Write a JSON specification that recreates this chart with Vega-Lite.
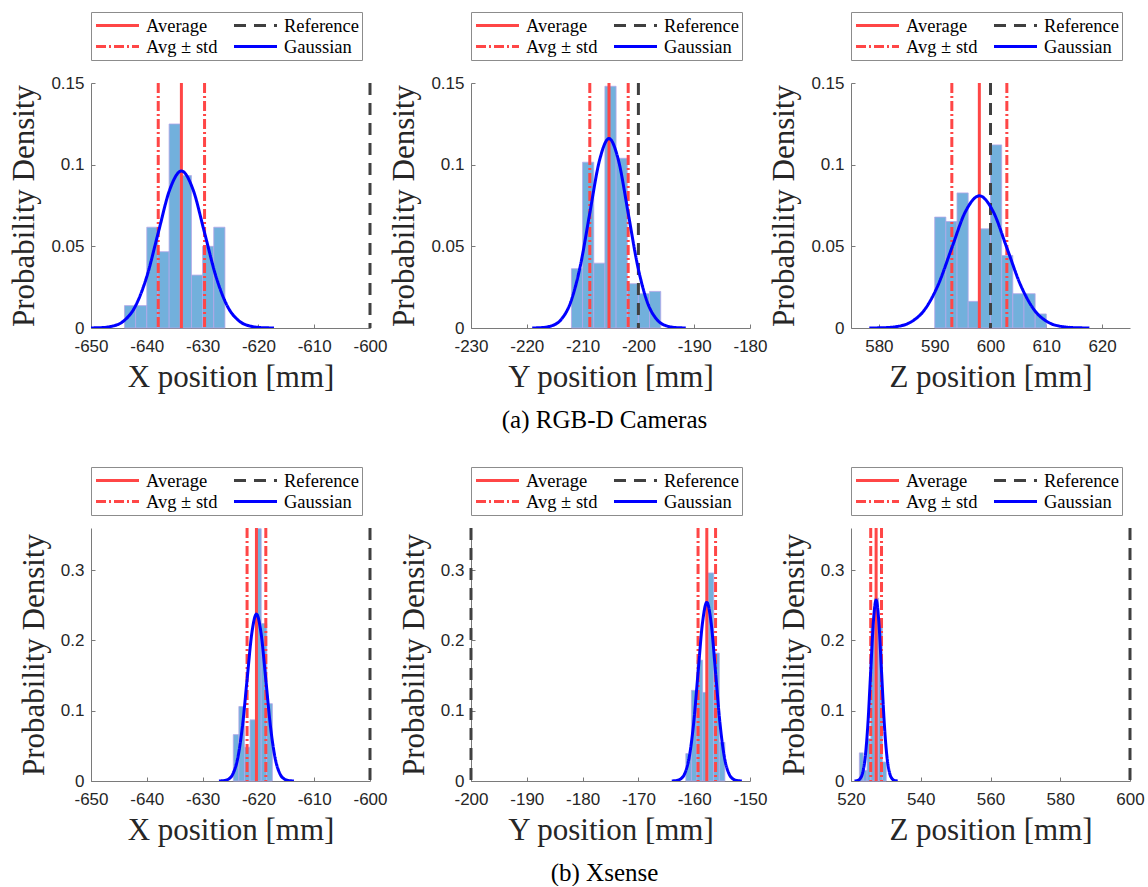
{
  "$schema": "https://vega.github.io/schema/vega-lite/v6.json",
  "background": "white",
  "padding": {"left": 8, "top": 11, "right": 1, "bottom": 0},
  "config": {
    "view": {"stroke": null},
    "font": "Liberation Sans",
    "axis": {"domainColor": "#7a7a7a", "tickColor": "#7a7a7a", "tickSize": -4, "labelFont": "Liberation Sans", "labelFontSize": 17, "labelColor": "#262626", "titleFont": "Liberation Serif", "titleFontSize": 31, "titleFontWeight": "normal", "titleColor": "#262626", "grid": false},
    "axisX": {"labelPadding": 14, "titlePadding": 8, "labelFlush": false},
    "axisY": {"labelPadding": 11, "titlePadding": 10, "labelFlush": false},
    "legend": {"symbolType": "stroke", "symbolSize": 1850, "symbolStrokeWidth": 3, "labelFont": "Liberation Serif", "labelFontSize": 18.5, "labelColor": "#000000", "columns": 2, "columnPadding": 14, "rowPadding": 0, "padding": 3, "strokeColor": "#8c8c8c", "fillColor": "white", "labelOffset": 5, "clipHeight": 21},
    "title": {"font": "Liberation Serif", "fontSize": 25, "fontWeight": "normal", "color": "#000000"}
  },
  "datasets": {
    "hist": [
      {"p": "X1", "x0": -644, "x1": -642, "d": 0.0137},
      {"p": "X1", "x0": -642, "x1": -640, "d": 0.0137},
      {"p": "X1", "x0": -640, "x1": -638, "d": 0.0617},
      {"p": "X1", "x0": -638, "x1": -636, "d": 0.0467},
      {"p": "X1", "x0": -636, "x1": -634, "d": 0.1249},
      {"p": "X1", "x0": -634, "x1": -632, "d": 0.0933},
      {"p": "X1", "x0": -632, "x1": -630, "d": 0.0324},
      {"p": "X1", "x0": -630, "x1": -628, "d": 0.050},
      {"p": "X1", "x0": -628, "x1": -626, "d": 0.0617},
      {"p": "Y1", "x0": -212, "x1": -210, "d": 0.0363},
      {"p": "Y1", "x0": -210, "x1": -208, "d": 0.1015},
      {"p": "Y1", "x0": -208, "x1": -206, "d": 0.0397},
      {"p": "Y1", "x0": -206, "x1": -204, "d": 0.148},
      {"p": "Y1", "x0": -204, "x1": -202, "d": 0.1039},
      {"p": "Y1", "x0": -202, "x1": -200, "d": 0.0271},
      {"p": "Y1", "x0": -200, "x1": -198, "d": 0.021},
      {"p": "Y1", "x0": -198, "x1": -196, "d": 0.0224},
      {"p": "Z1", "x0": 590, "x1": 592, "d": 0.0679},
      {"p": "Z1", "x0": 592, "x1": 594, "d": 0.0652},
      {"p": "Z1", "x0": 594, "x1": 596, "d": 0.0827},
      {"p": "Z1", "x0": 596, "x1": 598, "d": 0.0163},
      {"p": "Z1", "x0": 598, "x1": 600, "d": 0.0607},
      {"p": "Z1", "x0": 600, "x1": 602, "d": 0.1121},
      {"p": "Z1", "x0": 602, "x1": 604, "d": 0.0444},
      {"p": "Z1", "x0": 604, "x1": 606, "d": 0.021},
      {"p": "Z1", "x0": 606, "x1": 608, "d": 0.021},
      {"p": "Z1", "x0": 608, "x1": 610, "d": 0.0086},
      {"p": "X2", "x0": -624.5, "x1": -623.5, "d": 0.066},
      {"p": "X2", "x0": -623.5, "x1": -622.5, "d": 0.106},
      {"p": "X2", "x0": -622.5, "x1": -621.5, "d": 0.048},
      {"p": "X2", "x0": -621.5, "x1": -620.5, "d": 0.087},
      {"p": "X2", "x0": -620.5, "x1": -619.5, "d": 0.359},
      {"p": "X2", "x0": -619.5, "x1": -618.5, "d": 0.224},
      {"p": "X2", "x0": -618.5, "x1": -617.5, "d": 0.110},
      {"p": "Y2", "x0": -161.5, "x1": -160.5, "d": 0.039},
      {"p": "Y2", "x0": -160.5, "x1": -159.5, "d": 0.129},
      {"p": "Y2", "x0": -159.5, "x1": -158.5, "d": 0.172},
      {"p": "Y2", "x0": -158.5, "x1": -157.5, "d": 0.126},
      {"p": "Y2", "x0": -157.5, "x1": -156.5, "d": 0.296},
      {"p": "Y2", "x0": -156.5, "x1": -155.5, "d": 0.182},
      {"p": "Y2", "x0": -155.5, "x1": -154.5, "d": 0.055},
      {"p": "Z2", "x0": 522.4, "x1": 523.5, "d": 0.04},
      {"p": "Z2", "x0": 523.5, "x1": 524.6, "d": 0.015},
      {"p": "Z2", "x0": 524.6, "x1": 525.7, "d": 0.06},
      {"p": "Z2", "x0": 525.7, "x1": 526.8, "d": 0.22},
      {"p": "Z2", "x0": 526.8, "x1": 527.9, "d": 0.26},
      {"p": "Z2", "x0": 527.9, "x1": 529.0, "d": 0.22},
      {"p": "Z2", "x0": 529.0, "x1": 530.1, "d": 0.027}
    ],
    "lines": [
      {"p": "X1", "series": "Average", "x": -633.8},
      {"p": "X1", "series": "Avg ± std", "x": -637.95},
      {"p": "X1", "series": "Avg ± std", "x": -629.65},
      {"p": "X1", "series": "Reference", "x": -600},
      {"p": "Y1", "series": "Average", "x": -205.27},
      {"p": "Y1", "series": "Avg ± std", "x": -208.71},
      {"p": "Y1", "series": "Avg ± std", "x": -201.83},
      {"p": "Y1", "series": "Reference", "x": -200},
      {"p": "Z1", "series": "Average", "x": 598.0},
      {"p": "Z1", "series": "Avg ± std", "x": 593.07},
      {"p": "Z1", "series": "Avg ± std", "x": 602.93},
      {"p": "Z1", "series": "Reference", "x": 600},
      {"p": "X2", "series": "Average", "x": -620.35},
      {"p": "X2", "series": "Avg ± std", "x": -622.03},
      {"p": "X2", "series": "Avg ± std", "x": -618.67},
      {"p": "X2", "series": "Reference", "x": -600},
      {"p": "Y2", "series": "Average", "x": -157.74},
      {"p": "Y2", "series": "Avg ± std", "x": -159.31},
      {"p": "Y2", "series": "Avg ± std", "x": -156.17},
      {"p": "Y2", "series": "Reference", "x": -200},
      {"p": "Z2", "series": "Average", "x": 527.2},
      {"p": "Z2", "series": "Avg ± std", "x": 525.65},
      {"p": "Z2", "series": "Avg ± std", "x": 528.75},
      {"p": "Z2", "series": "Reference", "x": 600}
    ],
    "gauss": [
      {"p": "X1", "series": "Gaussian", "x": -650.4, "d": 0.0000322},
      {"p": "X1", "series": "Gaussian", "x": -648.325, "d": 0.00021},
      {"p": "X1", "series": "Gaussian", "x": -646.25, "d": 0.001068},
      {"p": "X1", "series": "Gaussian", "x": -644.175, "d": 0.004224},
      {"p": "X1", "series": "Gaussian", "x": -642.1, "d": 0.01301},
      {"p": "X1", "series": "Gaussian", "x": -640.025, "d": 0.03121},
      {"p": "X1", "series": "Gaussian", "x": -637.95, "d": 0.0583},
      {"p": "X1", "series": "Gaussian", "x": -635.875, "d": 0.08484},
      {"p": "X1", "series": "Gaussian", "x": -633.8, "d": 0.09613},
      {"p": "X1", "series": "Gaussian", "x": -631.725, "d": 0.08484},
      {"p": "X1", "series": "Gaussian", "x": -629.65, "d": 0.0583},
      {"p": "X1", "series": "Gaussian", "x": -627.575, "d": 0.03121},
      {"p": "X1", "series": "Gaussian", "x": -625.5, "d": 0.01301},
      {"p": "X1", "series": "Gaussian", "x": -623.425, "d": 0.004224},
      {"p": "X1", "series": "Gaussian", "x": -621.35, "d": 0.001068},
      {"p": "X1", "series": "Gaussian", "x": -619.275, "d": 0.00021},
      {"p": "X1", "series": "Gaussian", "x": -617.2, "d": 0.0000322},
      {"p": "Y1", "series": "Gaussian", "x": -219.03, "d": 0.0000389},
      {"p": "Y1", "series": "Gaussian", "x": -217.31, "d": 0.000254},
      {"p": "Y1", "series": "Gaussian", "x": -215.59, "d": 0.001288},
      {"p": "Y1", "series": "Gaussian", "x": -213.87, "d": 0.005096},
      {"p": "Y1", "series": "Gaussian", "x": -212.15, "d": 0.01569},
      {"p": "Y1", "series": "Gaussian", "x": -210.43, "d": 0.03766},
      {"p": "Y1", "series": "Gaussian", "x": -208.71, "d": 0.07034},
      {"p": "Y1", "series": "Gaussian", "x": -206.99, "d": 0.10234},
      {"p": "Y1", "series": "Gaussian", "x": -205.27, "d": 0.11597},
      {"p": "Y1", "series": "Gaussian", "x": -203.55, "d": 0.10234},
      {"p": "Y1", "series": "Gaussian", "x": -201.83, "d": 0.07034},
      {"p": "Y1", "series": "Gaussian", "x": -200.11, "d": 0.03766},
      {"p": "Y1", "series": "Gaussian", "x": -198.39, "d": 0.01569},
      {"p": "Y1", "series": "Gaussian", "x": -196.67, "d": 0.005096},
      {"p": "Y1", "series": "Gaussian", "x": -194.95, "d": 0.001288},
      {"p": "Y1", "series": "Gaussian", "x": -193.23, "d": 0.000254},
      {"p": "Y1", "series": "Gaussian", "x": -191.51, "d": 0.0000389},
      {"p": "Z1", "series": "Gaussian", "x": 578.28, "d": 0.0000271},
      {"p": "Z1", "series": "Gaussian", "x": 580.745, "d": 0.000177},
      {"p": "Z1", "series": "Gaussian", "x": 583.21, "d": 0.000899},
      {"p": "Z1", "series": "Gaussian", "x": 585.675, "d": 0.003556},
      {"p": "Z1", "series": "Gaussian", "x": 588.14, "d": 0.01095},
      {"p": "Z1", "series": "Gaussian", "x": 590.605, "d": 0.02627},
      {"p": "Z1", "series": "Gaussian", "x": 593.07, "d": 0.04908},
      {"p": "Z1", "series": "Gaussian", "x": 595.535, "d": 0.07141},
      {"p": "Z1", "series": "Gaussian", "x": 598.0, "d": 0.08092},
      {"p": "Z1", "series": "Gaussian", "x": 600.465, "d": 0.07141},
      {"p": "Z1", "series": "Gaussian", "x": 602.93, "d": 0.04908},
      {"p": "Z1", "series": "Gaussian", "x": 605.395, "d": 0.02627},
      {"p": "Z1", "series": "Gaussian", "x": 607.86, "d": 0.01095},
      {"p": "Z1", "series": "Gaussian", "x": 610.325, "d": 0.003556},
      {"p": "Z1", "series": "Gaussian", "x": 612.79, "d": 0.000899},
      {"p": "Z1", "series": "Gaussian", "x": 615.255, "d": 0.000177},
      {"p": "Z1", "series": "Gaussian", "x": 617.72, "d": 0.0000271},
      {"p": "X2", "series": "Gaussian", "x": -627.07, "d": 0.0000796},
      {"p": "X2", "series": "Gaussian", "x": -626.23, "d": 0.000519},
      {"p": "X2", "series": "Gaussian", "x": -625.39, "d": 0.002638},
      {"p": "X2", "series": "Gaussian", "x": -624.55, "d": 0.010435},
      {"p": "X2", "series": "Gaussian", "x": -623.71, "d": 0.03213},
      {"p": "X2", "series": "Gaussian", "x": -622.87, "d": 0.07711},
      {"p": "X2", "series": "Gaussian", "x": -622.03, "d": 0.14403},
      {"p": "X2", "series": "Gaussian", "x": -621.19, "d": 0.20957},
      {"p": "X2", "series": "Gaussian", "x": -620.35, "d": 0.23747},
      {"p": "X2", "series": "Gaussian", "x": -619.51, "d": 0.20957},
      {"p": "X2", "series": "Gaussian", "x": -618.67, "d": 0.14403},
      {"p": "X2", "series": "Gaussian", "x": -617.83, "d": 0.07711},
      {"p": "X2", "series": "Gaussian", "x": -616.99, "d": 0.03213},
      {"p": "X2", "series": "Gaussian", "x": -616.15, "d": 0.010435},
      {"p": "X2", "series": "Gaussian", "x": -615.31, "d": 0.002638},
      {"p": "X2", "series": "Gaussian", "x": -614.47, "d": 0.000519},
      {"p": "X2", "series": "Gaussian", "x": -613.63, "d": 0.0000796},
      {"p": "Y2", "series": "Gaussian", "x": -164.02, "d": 0.0000851},
      {"p": "Y2", "series": "Gaussian", "x": -163.235, "d": 0.000556},
      {"p": "Y2", "series": "Gaussian", "x": -162.45, "d": 0.002823},
      {"p": "Y2", "series": "Gaussian", "x": -161.665, "d": 0.011165},
      {"p": "Y2", "series": "Gaussian", "x": -160.88, "d": 0.03438},
      {"p": "Y2", "series": "Gaussian", "x": -160.095, "d": 0.08251},
      {"p": "Y2", "series": "Gaussian", "x": -159.31, "d": 0.15411},
      {"p": "Y2", "series": "Gaussian", "x": -158.525, "d": 0.22424},
      {"p": "Y2", "series": "Gaussian", "x": -157.74, "d": 0.2541},
      {"p": "Y2", "series": "Gaussian", "x": -156.955, "d": 0.22424},
      {"p": "Y2", "series": "Gaussian", "x": -156.17, "d": 0.15411},
      {"p": "Y2", "series": "Gaussian", "x": -155.385, "d": 0.08251},
      {"p": "Y2", "series": "Gaussian", "x": -154.6, "d": 0.03438},
      {"p": "Y2", "series": "Gaussian", "x": -153.815, "d": 0.011165},
      {"p": "Y2", "series": "Gaussian", "x": -153.03, "d": 0.002823},
      {"p": "Y2", "series": "Gaussian", "x": -152.245, "d": 0.000556},
      {"p": "Y2", "series": "Gaussian", "x": -151.46, "d": 0.0000851},
      {"p": "Z2", "series": "Gaussian", "x": 521.0, "d": 0.0000862},
      {"p": "Z2", "series": "Gaussian", "x": 521.775, "d": 0.000563},
      {"p": "Z2", "series": "Gaussian", "x": 522.55, "d": 0.00286},
      {"p": "Z2", "series": "Gaussian", "x": 523.325, "d": 0.01131},
      {"p": "Z2", "series": "Gaussian", "x": 524.1, "d": 0.03482},
      {"p": "Z2", "series": "Gaussian", "x": 524.875, "d": 0.08357},
      {"p": "Z2", "series": "Gaussian", "x": 525.65, "d": 0.1561},
      {"p": "Z2", "series": "Gaussian", "x": 526.425, "d": 0.22714},
      {"p": "Z2", "series": "Gaussian", "x": 527.2, "d": 0.25738},
      {"p": "Z2", "series": "Gaussian", "x": 527.975, "d": 0.22714},
      {"p": "Z2", "series": "Gaussian", "x": 528.75, "d": 0.1561},
      {"p": "Z2", "series": "Gaussian", "x": 529.525, "d": 0.08357},
      {"p": "Z2", "series": "Gaussian", "x": 530.3, "d": 0.03482},
      {"p": "Z2", "series": "Gaussian", "x": 531.075, "d": 0.01131},
      {"p": "Z2", "series": "Gaussian", "x": 531.85, "d": 0.00286},
      {"p": "Z2", "series": "Gaussian", "x": 532.625, "d": 0.000563},
      {"p": "Z2", "series": "Gaussian", "x": 533.4, "d": 0.0000862}
    ]
  },
  "spacing": 445,
  "bounds": "flush",
  "resolve": {"scale": {"color": "independent", "strokeDash": "independent", "x": "independent", "y": "independent"}, "legend": {"color": "independent", "strokeDash": "independent"}},
  "vconcat": [
    {
      "spacing": 101,
      "bounds": "flush",
      "resolve": {"scale": {"color": "independent", "strokeDash": "independent", "x": "independent", "y": "independent"}, "legend": {"color": "independent", "strokeDash": "independent"}},
      "hconcat": [
        {
          "width": 279, "height": 245,
          "layer": [
            {"data": {"name": "hist"}, "transform": [{"filter": "datum.p == 'X1'"}],
             "mark": {"type": "rect", "fill": "#72b0dc", "stroke": "#b4a7e8", "strokeWidth": 0.8},
             "encoding": {
               "x": {"field": "x0", "type": "quantitative", "title": "X position [mm]", "scale": {"domain": [-650, -600], "nice": false, "zero": false}, "axis": {"values": [-650, -640, -630, -620, -610, -600], "labelExpr": "'' + datum.value"}},
               "x2": {"field": "x1"},
               "y": {"field": "d", "type": "quantitative", "title": "Probability Density", "scale": {"domain": [0, 0.15], "nice": false}, "axis": {"values": [0, 0.05, 0.1, 0.15], "labelExpr": "'' + datum.value"}},
               "y2": {"datum": 0}}},
            {"data": {"name": "lines"}, "transform": [{"filter": "datum.p == 'X1'"}],
             "mark": {"type": "rule", "strokeWidth": 3},
             "encoding": {
               "x": {"field": "x", "type": "quantitative", "title": "X position [mm]"},
               "color": {"field": "series", "type": "nominal", "scale": {"domain": ["Average", "Reference", "Avg ± std", "Gaussian"], "range": ["#ff4646", "#404040", "#ff4646", "#0000ff"]}, "legend": {"orient": "top", "offset": 23, "title": null}},
               "strokeDash": {"field": "series", "type": "nominal", "scale": {"domain": ["Average", "Reference", "Avg ± std", "Gaussian"], "range": [[1, 0], [12, 8], [10, 3, 2, 3], [1, 0]]}, "legend": {"orient": "top", "offset": 23, "title": null}}}},
            {"data": {"name": "gauss"}, "transform": [{"filter": "datum.p == 'X1'"}],
             "mark": {"type": "line", "strokeWidth": 3, "interpolate": "monotone", "clip": true},
             "encoding": {
               "x": {"field": "x", "type": "quantitative", "title": "X position [mm]"},
               "y": {"field": "d", "type": "quantitative", "title": "Probability Density"},
               "color": {"field": "series", "type": "nominal", "scale": {"domain": ["Average", "Reference", "Avg ± std", "Gaussian"], "range": ["#ff4646", "#404040", "#ff4646", "#0000ff"]}, "legend": {"orient": "top", "offset": 23, "title": null}},
               "strokeDash": {"field": "series", "type": "nominal", "scale": {"domain": ["Average", "Reference", "Avg ± std", "Gaussian"], "range": [[1, 0], [12, 8], [10, 3, 2, 3], [1, 0]]}, "legend": {"orient": "top", "offset": 23, "title": null}}}}
          ]
        },
        {
          "width": 279, "height": 245,
          "title": {"text": "(a) RGB-D Cameras", "orient": "bottom", "anchor": "middle", "frame": "group", "offset": 16, "dx": -6},
          "layer": [
            {"data": {"name": "hist"}, "transform": [{"filter": "datum.p == 'Y1'"}],
             "mark": {"type": "rect", "fill": "#72b0dc", "stroke": "#b4a7e8", "strokeWidth": 0.8},
             "encoding": {
               "x": {"field": "x0", "type": "quantitative", "title": "Y position [mm]", "scale": {"domain": [-230, -180], "nice": false, "zero": false}, "axis": {"values": [-230, -220, -210, -200, -190, -180], "labelExpr": "'' + datum.value"}},
               "x2": {"field": "x1"},
               "y": {"field": "d", "type": "quantitative", "title": "Probability Density", "scale": {"domain": [0, 0.15], "nice": false}, "axis": {"values": [0, 0.05, 0.1, 0.15], "labelExpr": "'' + datum.value"}},
               "y2": {"datum": 0}}},
            {"data": {"name": "lines"}, "transform": [{"filter": "datum.p == 'Y1'"}],
             "mark": {"type": "rule", "strokeWidth": 3},
             "encoding": {
               "x": {"field": "x", "type": "quantitative", "title": "Y position [mm]"},
               "color": {"field": "series", "type": "nominal", "scale": {"domain": ["Average", "Reference", "Avg ± std", "Gaussian"], "range": ["#ff4646", "#404040", "#ff4646", "#0000ff"]}, "legend": {"orient": "top", "offset": 23, "title": null}},
               "strokeDash": {"field": "series", "type": "nominal", "scale": {"domain": ["Average", "Reference", "Avg ± std", "Gaussian"], "range": [[1, 0], [12, 8], [10, 3, 2, 3], [1, 0]]}, "legend": {"orient": "top", "offset": 23, "title": null}}}},
            {"data": {"name": "gauss"}, "transform": [{"filter": "datum.p == 'Y1'"}],
             "mark": {"type": "line", "strokeWidth": 3, "interpolate": "monotone", "clip": true},
             "encoding": {
               "x": {"field": "x", "type": "quantitative", "title": "Y position [mm]"},
               "y": {"field": "d", "type": "quantitative", "title": "Probability Density"},
               "color": {"field": "series", "type": "nominal", "scale": {"domain": ["Average", "Reference", "Avg ± std", "Gaussian"], "range": ["#ff4646", "#404040", "#ff4646", "#0000ff"]}, "legend": {"orient": "top", "offset": 23, "title": null}},
               "strokeDash": {"field": "series", "type": "nominal", "scale": {"domain": ["Average", "Reference", "Avg ± std", "Gaussian"], "range": [[1, 0], [12, 8], [10, 3, 2, 3], [1, 0]]}, "legend": {"orient": "top", "offset": 23, "title": null}}}}
          ]
        },
        {
          "width": 279, "height": 245,
          "layer": [
            {"data": {"name": "hist"}, "transform": [{"filter": "datum.p == 'Z1'"}],
             "mark": {"type": "rect", "fill": "#72b0dc", "stroke": "#b4a7e8", "strokeWidth": 0.8},
             "encoding": {
               "x": {"field": "x0", "type": "quantitative", "title": "Z position [mm]", "scale": {"domain": [575, 625], "nice": false, "zero": false}, "axis": {"values": [580, 590, 600, 610, 620], "labelExpr": "'' + datum.value"}},
               "x2": {"field": "x1"},
               "y": {"field": "d", "type": "quantitative", "title": "Probability Density", "scale": {"domain": [0, 0.15], "nice": false}, "axis": {"values": [0, 0.05, 0.1, 0.15], "labelExpr": "'' + datum.value"}},
               "y2": {"datum": 0}}},
            {"data": {"name": "lines"}, "transform": [{"filter": "datum.p == 'Z1'"}],
             "mark": {"type": "rule", "strokeWidth": 3},
             "encoding": {
               "x": {"field": "x", "type": "quantitative", "title": "Z position [mm]"},
               "color": {"field": "series", "type": "nominal", "scale": {"domain": ["Average", "Reference", "Avg ± std", "Gaussian"], "range": ["#ff4646", "#404040", "#ff4646", "#0000ff"]}, "legend": {"orient": "top", "offset": 23, "title": null}},
               "strokeDash": {"field": "series", "type": "nominal", "scale": {"domain": ["Average", "Reference", "Avg ± std", "Gaussian"], "range": [[1, 0], [12, 8], [10, 3, 2, 3], [1, 0]]}, "legend": {"orient": "top", "offset": 23, "title": null}}}},
            {"data": {"name": "gauss"}, "transform": [{"filter": "datum.p == 'Z1'"}],
             "mark": {"type": "line", "strokeWidth": 3, "interpolate": "monotone", "clip": true},
             "encoding": {
               "x": {"field": "x", "type": "quantitative", "title": "Z position [mm]"},
               "y": {"field": "d", "type": "quantitative", "title": "Probability Density"},
               "color": {"field": "series", "type": "nominal", "scale": {"domain": ["Average", "Reference", "Avg ± std", "Gaussian"], "range": ["#ff4646", "#404040", "#ff4646", "#0000ff"]}, "legend": {"orient": "top", "offset": 23, "title": null}},
               "strokeDash": {"field": "series", "type": "nominal", "scale": {"domain": ["Average", "Reference", "Avg ± std", "Gaussian"], "range": [[1, 0], [12, 8], [10, 3, 2, 3], [1, 0]]}, "legend": {"orient": "top", "offset": 23, "title": null}}}}
          ]
        }
      ]
    },
    {
      "spacing": 101,
      "bounds": "flush",
      "resolve": {"scale": {"color": "independent", "strokeDash": "independent", "x": "independent", "y": "independent"}, "legend": {"color": "independent", "strokeDash": "independent"}},
      "hconcat": [
        {
          "width": 279, "height": 253,
          "layer": [
            {"data": {"name": "hist"}, "transform": [{"filter": "datum.p == 'X2'"}],
             "mark": {"type": "rect", "fill": "#72b0dc", "stroke": "#b4a7e8", "strokeWidth": 0.8},
             "encoding": {
               "x": {"field": "x0", "type": "quantitative", "title": "X position [mm]", "scale": {"domain": [-650, -600], "nice": false, "zero": false}, "axis": {"values": [-650, -640, -630, -620, -610, -600], "labelExpr": "'' + datum.value"}},
               "x2": {"field": "x1"},
               "y": {"field": "d", "type": "quantitative", "title": "Probability Density", "scale": {"domain": [0, 0.36], "nice": false}, "axis": {"values": [0, 0.1, 0.2, 0.3], "labelExpr": "'' + datum.value"}},
               "y2": {"datum": 0}}},
            {"data": {"name": "lines"}, "transform": [{"filter": "datum.p == 'X2'"}],
             "mark": {"type": "rule", "strokeWidth": 3},
             "encoding": {
               "x": {"field": "x", "type": "quantitative", "title": "X position [mm]"},
               "color": {"field": "series", "type": "nominal", "scale": {"domain": ["Average", "Reference", "Avg ± std", "Gaussian"], "range": ["#ff4646", "#404040", "#ff4646", "#0000ff"]}, "legend": {"orient": "top", "offset": 13, "title": null}},
               "strokeDash": {"field": "series", "type": "nominal", "scale": {"domain": ["Average", "Reference", "Avg ± std", "Gaussian"], "range": [[1, 0], [12, 8], [10, 3, 2, 3], [1, 0]]}, "legend": {"orient": "top", "offset": 13, "title": null}}}},
            {"data": {"name": "gauss"}, "transform": [{"filter": "datum.p == 'X2'"}],
             "mark": {"type": "line", "strokeWidth": 3, "interpolate": "monotone", "clip": true},
             "encoding": {
               "x": {"field": "x", "type": "quantitative", "title": "X position [mm]"},
               "y": {"field": "d", "type": "quantitative", "title": "Probability Density"},
               "color": {"field": "series", "type": "nominal", "scale": {"domain": ["Average", "Reference", "Avg ± std", "Gaussian"], "range": ["#ff4646", "#404040", "#ff4646", "#0000ff"]}, "legend": {"orient": "top", "offset": 13, "title": null}},
               "strokeDash": {"field": "series", "type": "nominal", "scale": {"domain": ["Average", "Reference", "Avg ± std", "Gaussian"], "range": [[1, 0], [12, 8], [10, 3, 2, 3], [1, 0]]}, "legend": {"orient": "top", "offset": 13, "title": null}}}}
          ]
        },
        {
          "width": 279, "height": 253,
          "title": {"text": "(b) Xsense", "orient": "bottom", "anchor": "middle", "frame": "group", "offset": 16, "dx": -6},
          "layer": [
            {"data": {"name": "hist"}, "transform": [{"filter": "datum.p == 'Y2'"}],
             "mark": {"type": "rect", "fill": "#72b0dc", "stroke": "#b4a7e8", "strokeWidth": 0.8},
             "encoding": {
               "x": {"field": "x0", "type": "quantitative", "title": "Y position [mm]", "scale": {"domain": [-200, -150], "nice": false, "zero": false}, "axis": {"values": [-200, -190, -180, -170, -160, -150], "labelExpr": "'' + datum.value"}},
               "x2": {"field": "x1"},
               "y": {"field": "d", "type": "quantitative", "title": "Probability Density", "scale": {"domain": [0, 0.36], "nice": false}, "axis": {"values": [0, 0.1, 0.2, 0.3], "labelExpr": "'' + datum.value"}},
               "y2": {"datum": 0}}},
            {"data": {"name": "lines"}, "transform": [{"filter": "datum.p == 'Y2'"}],
             "mark": {"type": "rule", "strokeWidth": 3},
             "encoding": {
               "x": {"field": "x", "type": "quantitative", "title": "Y position [mm]"},
               "color": {"field": "series", "type": "nominal", "scale": {"domain": ["Average", "Reference", "Avg ± std", "Gaussian"], "range": ["#ff4646", "#404040", "#ff4646", "#0000ff"]}, "legend": {"orient": "top", "offset": 13, "title": null}},
               "strokeDash": {"field": "series", "type": "nominal", "scale": {"domain": ["Average", "Reference", "Avg ± std", "Gaussian"], "range": [[1, 0], [12, 8], [10, 3, 2, 3], [1, 0]]}, "legend": {"orient": "top", "offset": 13, "title": null}}}},
            {"data": {"name": "gauss"}, "transform": [{"filter": "datum.p == 'Y2'"}],
             "mark": {"type": "line", "strokeWidth": 3, "interpolate": "monotone", "clip": true},
             "encoding": {
               "x": {"field": "x", "type": "quantitative", "title": "Y position [mm]"},
               "y": {"field": "d", "type": "quantitative", "title": "Probability Density"},
               "color": {"field": "series", "type": "nominal", "scale": {"domain": ["Average", "Reference", "Avg ± std", "Gaussian"], "range": ["#ff4646", "#404040", "#ff4646", "#0000ff"]}, "legend": {"orient": "top", "offset": 13, "title": null}},
               "strokeDash": {"field": "series", "type": "nominal", "scale": {"domain": ["Average", "Reference", "Avg ± std", "Gaussian"], "range": [[1, 0], [12, 8], [10, 3, 2, 3], [1, 0]]}, "legend": {"orient": "top", "offset": 13, "title": null}}}}
          ]
        },
        {
          "width": 279, "height": 253,
          "layer": [
            {"data": {"name": "hist"}, "transform": [{"filter": "datum.p == 'Z2'"}],
             "mark": {"type": "rect", "fill": "#72b0dc", "stroke": "#b4a7e8", "strokeWidth": 0.8},
             "encoding": {
               "x": {"field": "x0", "type": "quantitative", "title": "Z position [mm]", "scale": {"domain": [520, 600], "nice": false, "zero": false}, "axis": {"values": [520, 540, 560, 580, 600], "labelExpr": "'' + datum.value"}},
               "x2": {"field": "x1"},
               "y": {"field": "d", "type": "quantitative", "title": "Probability Density", "scale": {"domain": [0, 0.36], "nice": false}, "axis": {"values": [0, 0.1, 0.2, 0.3], "labelExpr": "'' + datum.value"}},
               "y2": {"datum": 0}}},
            {"data": {"name": "lines"}, "transform": [{"filter": "datum.p == 'Z2'"}],
             "mark": {"type": "rule", "strokeWidth": 3},
             "encoding": {
               "x": {"field": "x", "type": "quantitative", "title": "Z position [mm]"},
               "color": {"field": "series", "type": "nominal", "scale": {"domain": ["Average", "Reference", "Avg ± std", "Gaussian"], "range": ["#ff4646", "#404040", "#ff4646", "#0000ff"]}, "legend": {"orient": "top", "offset": 13, "title": null}},
               "strokeDash": {"field": "series", "type": "nominal", "scale": {"domain": ["Average", "Reference", "Avg ± std", "Gaussian"], "range": [[1, 0], [12, 8], [10, 3, 2, 3], [1, 0]]}, "legend": {"orient": "top", "offset": 13, "title": null}}}},
            {"data": {"name": "gauss"}, "transform": [{"filter": "datum.p == 'Z2'"}],
             "mark": {"type": "line", "strokeWidth": 3, "interpolate": "monotone", "clip": true},
             "encoding": {
               "x": {"field": "x", "type": "quantitative", "title": "Z position [mm]"},
               "y": {"field": "d", "type": "quantitative", "title": "Probability Density"},
               "color": {"field": "series", "type": "nominal", "scale": {"domain": ["Average", "Reference", "Avg ± std", "Gaussian"], "range": ["#ff4646", "#404040", "#ff4646", "#0000ff"]}, "legend": {"orient": "top", "offset": 13, "title": null}},
               "strokeDash": {"field": "series", "type": "nominal", "scale": {"domain": ["Average", "Reference", "Avg ± std", "Gaussian"], "range": [[1, 0], [12, 8], [10, 3, 2, 3], [1, 0]]}, "legend": {"orient": "top", "offset": 13, "title": null}}}}
          ]
        }
      ]
    }
  ]
}
